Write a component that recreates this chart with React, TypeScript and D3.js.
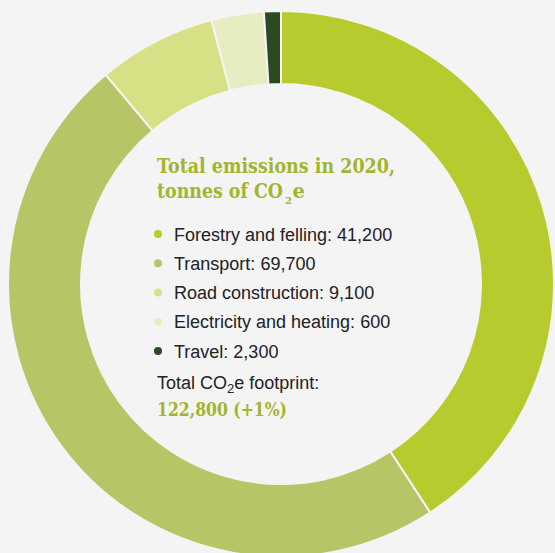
import * as d3 from "d3";

const categories = [
  "Forestry and felling",
  "Transport",
  "Road construction",
  "Electricity and heating",
  "Travel",
];
const legendValues = ["41,200", "69,700", "9,100", "600", "2,300"];
// slice shares (%) as drawn in the picture
const sliceShares = [40.8, 48.1, 7.0, 3.1, 1.0];
const colors = ["#b8cb2e", "#b7c567", "#d8e085", "#e7edc1", "#2b4a24"];
const totalValue = "122,800 (+1%)";

const W = 555;
const H = 553;
const BG = "#f4f4f4";
const GREEN_TEXT = "#a3b52f";

export default function App() {
  const cx = 281;
  const cy = 284;
  const outerR = 273;
  const innerR = 200;

  const pie = d3
    .pie<number>()
    .sort(null)
    .value((d) => d)
    .startAngle(0)
    .endAngle(2 * Math.PI);
  const arcs = pie(sliceShares);
  const arc = d3
    .arc<d3.PieArcDatum<number>>()
    .innerRadius(innerR)
    .outerRadius(outerR);

  const legendX = 158;
  const rowY = d3
    .scaleLinear()
    .domain([0, categories.length - 1])
    .range([235, 352]);

  return (
    <svg
      width={W}
      height={H}
      style={{ position: "absolute", left: 0, top: 0, background: BG }}
    >
      <rect width={W} height={H} fill={BG} />
      <g transform={`translate(${cx},${cy})`}>
        {arcs.map((a, i) => (
          <path
            key={i}
            d={arc(a) || ""}
            fill={colors[i]}
            stroke={BG}
            strokeWidth={2}
          />
        ))}
      </g>

      <g fontFamily="'DejaVu Serif', serif" fontWeight="bold" fill={GREEN_TEXT}>
        <text
          x={157}
          y={173}
          fontSize={21}
          textLength={238}
          lengthAdjust="spacingAndGlyphs"
        >
          Total emissions in 2020,
        </text>
        <text
          x={157}
          y={198}
          fontSize={21}
          textLength={126}
          lengthAdjust="spacingAndGlyphs"
        >
          tonnes of CO
        </text>
        <text x={285} y={204} fontSize={10}>
          2
        </text>
        <text x={292.5} y={198} fontSize={21} textLength={12.5} lengthAdjust="spacingAndGlyphs">
          e
        </text>
      </g>

      <g fontFamily="'Liberation Sans', Arial, sans-serif" fontSize={18} fill="#222">
        {categories.map((c, i) => (
          <g key={c}>
            <circle cx={legendX} cy={rowY(i) - 1} r={4} fill={colors[i]} />
            <text x={174} y={rowY(i) + 5.5}>
              {c}: {legendValues[i]}
            </text>
          </g>
        ))}
        <text x={157} y={389}>
          Total CO
          <tspan fontSize={13} dy={4}>
            2
          </tspan>
          <tspan dy={-4}>e footprint:</tspan>
        </text>
      </g>
      <text
        x={157}
        y={416}
        fontFamily="'DejaVu Serif', serif"
        fontWeight="bold"
        fontSize={19}
        fill={GREEN_TEXT}
        textLength={130}
        lengthAdjust="spacingAndGlyphs"
      >
        {totalValue}
      </text>
    </svg>
  );
}
